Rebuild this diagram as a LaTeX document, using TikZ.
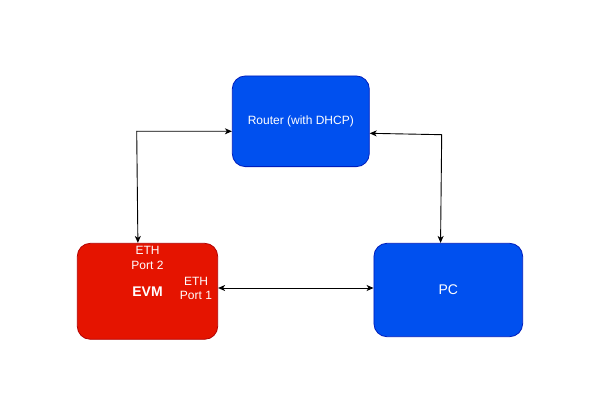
\documentclass[tikz,border=0pt]{standalone}
\usepackage{fontspec}
\setmainfont{Liberation Sans}
\usetikzlibrary{arrows.meta,calc}
\definecolor{bluefill}{HTML}{0050EF}
\definecolor{bluestroke}{HTML}{001DBC}
\definecolor{redfill}{HTML}{E51400}
\definecolor{redstroke}{HTML}{B20000}
\tikzset{
  box/.style={draw, line width=0.8pt, rounded corners=13pt, inner sep=0pt, text=white},
  bluebox/.style={box, fill=bluefill, draw=bluestroke},
  redbox/.style={box, fill=redfill, draw=redstroke},
  link/.style={draw=black, line width=0.9pt, {Stealth[length=7pt,width=6pt,inset=2pt]}-{Stealth[length=7pt,width=6pt,inset=2pt]}},
  lbl/.style={text=white, font=\fontsize{12}{14.4}\selectfont, align=center, inner sep=0pt}
}
\begin{document}
\begin{tikzpicture}[x=1pt,y=-1pt]
\useasboundingbox (0,0) rectangle (589,401);
\node[bluebox, minimum width=137pt, minimum height=90.7pt, font=\fontsize{12}{14.4}\selectfont] (router) at (300.8,121.3) {Router (with DHCP)};
\node[redbox, minimum width=140.4pt, minimum height=96pt, font=\bfseries\fontsize{14}{16.8}\selectfont] (evm) at (147.5,291.3) {EVM};
\node[bluebox, minimum width=148.7pt, minimum height=93.4pt, font=\fontsize{14}{16.8}\selectfont] (pc) at (448.3,290) {PC};
\node[lbl] (eth2) at (147.5,258) {ETH\\Port 2};
\node[lbl] (eth1) at (196,288.5) {ETH\\Port 1};
\coordinate (c1) at (136.7,131.3);
\coordinate (c2) at (441.7,134.7);
\draw[link] ($(evm.north west)+(61,0)$) -- (c1) -- (router.west |- c1);
\draw[link] ($(router.east)+(0,12)$) -- (c2) -- ($(pc.north west)+(67,0)$);
\draw[link] ($(evm.east)+(0,-3.3)$) -- ($(pc.west)+(0,-2)$);
\end{tikzpicture}
\end{document}
